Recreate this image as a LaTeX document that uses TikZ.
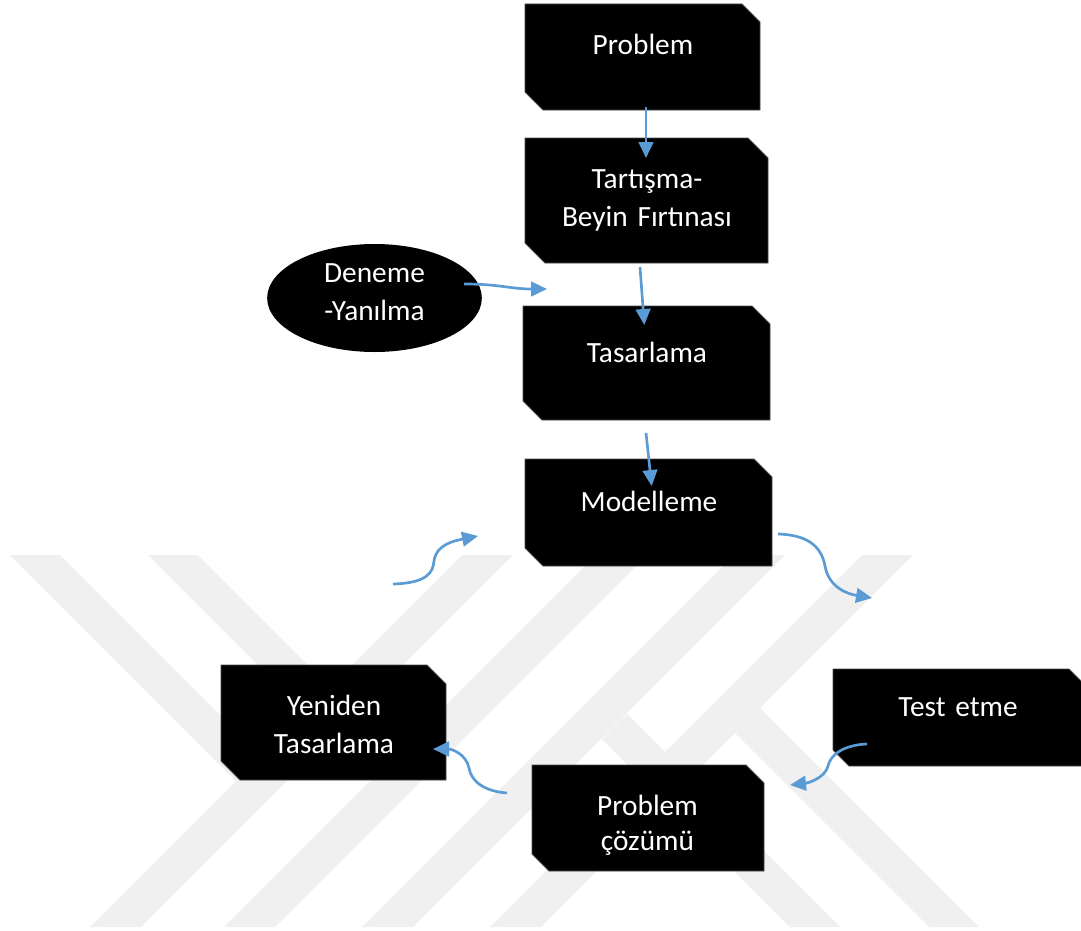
\documentclass[tikz,border=0pt]{standalone}
\usepackage{fontspec}
\setmainfont{Carlito}
\usetikzlibrary{arrows.meta,shapes.geometric}
\definecolor{arrowblue}{RGB}{91,155,213}
\definecolor{wmgray}{RGB}{240,240,240}
% snipped box: #1 x1, #2 y1, #3 x2, #4 y2, #5 cut top-right, #6 cut bottom-left
\newcommand\snipshape[6]{%
  \path[snip] (#1,#2) -- ({#3-#5},#2) -- (#3,{#2+#5}) -- (#3,#4) -- ({#1+#6},#4) -- (#1,{#4-#6}) -- cycle;}
\begin{document}
\begin{tikzpicture}[x=0.75pt,y=-0.75pt,
  snip/.style={fill=black,draw=black!70,line width=0.6pt},
  lbl/.style={text=white,font=\fontsize{22}{28.9}\selectfont,text width=220pt,align=center,anchor=base,inner sep=0pt},
  flow/.style={draw=arrowblue,line width=2pt,-{Triangle[length=12pt,width=11pt]}},
  wm/.style={fill=wmgray,draw=none}]
\useasboundingbox (0,0) rectangle (1081,931);
\fill[white] (0,0) rectangle (1081,931);
% watermark
\foreach \b in {90,224,362,490}{
  \fill[wm] (\b,927) -- ({\b+51},927) -- ({\b+423},555) -- ({\b+372},555) -- cycle;}
\fill[wm] (10,555) -- (60,555) -- (286.5,781.5) -- (236,781) -- cycle;
\fill[wm] (148,555) -- (198,555) -- (423,780) -- (372,779) -- cycle;
\fill[wm] (759.5,707.5) -- (979,927) -- (929,927) -- (734.5,732.5) -- cycle;
\fill[wm] (627,714) -- (840,927) -- (790,927) -- (602,739) -- cycle;
% boxes
\snipshape{525}{4}{760}{110}{18}{18}
\snipshape{525}{138}{768}{263}{20}{20}
\snipshape{523}{306}{770}{420}{18}{19}
\snipshape{525}{459}{772}{566}{18}{18}
\snipshape{221}{665}{446}{780}{19}{19}
\snipshape{833}{669}{1087}{766}{18}{16}
\snipshape{532}{765}{764}{871}{18}{17}
\node[ellipse,fill=black,minimum width=161pt,minimum height=81pt,inner sep=0pt] (den) at (374.5,298) {};
% labels
\node[lbl] (prob) at (643,55) {Problem};
\node[lbl] (tart) at (647,188) {Tartışma-\\Beyin Fırtınası};
\node[lbl] (tasa) at (647,362) {Tasarlama};
\node[lbl] (mode) at (649,511) {Modelleme};
\node[lbl] (dene) at (374.5,282) {Deneme\\-Yanılma};
\node[lbl] (yeni) at (334,715) {Yeniden\\Tasarlama};
\node[lbl] (test) at (958,716) {Test etme};
\node[lbl,font=\fontsize{22}{26.5}\selectfont] (coz) at (647.5,815) {Problem\\çözümü};
% connector end points
\coordinate (a1s) at (646,107);   \coordinate (a1e) at (646,158);
\coordinate (a2s) at (640,267);   \coordinate (a2e) at (644.3,325);
\coordinate (a3s) at (646,433);   \coordinate (a3e) at (651.7,486);
\coordinate (a4s) at (464,284);   \coordinate (a4e) at (547,289);
\coordinate (c1s) at (393,584);   \coordinate (c1e) at (478,536);
\coordinate (c2s) at (778,534);   \coordinate (c2e) at (872,598);
\coordinate (c3s) at (867,744);   \coordinate (c3e) at (790,785);
\coordinate (c4s) at (507,793);   \coordinate (c4e) at (433,749);
% connectors
\draw[flow] (a1s) -- (a1e);
\draw[flow] (a2s) -- (a2e);
\draw[flow] (a3s) -- (a3e);
\draw[flow] (a4s) .. controls (500,284) and (510,289) .. (a4e);
\draw[flow] (c1s) .. controls (428,583) and (433,572) .. (434,561) .. controls (436,545) and (453,541) .. (c1e);
\draw[flow] (c2s) .. controls (812,535) and (822,550) .. (825,566) .. controls (829,588) and (848,594) .. (c2e);
\draw[flow] (c3s) .. controls (842,745) and (830,756) .. (828,766) .. controls (825,778) and (808,783) .. (c3e);
\draw[flow] (c4s) .. controls (482,791) and (471,780) .. (469,768) .. controls (466,754) and (452,749) .. (c4e);
\end{tikzpicture}
\end{document}
